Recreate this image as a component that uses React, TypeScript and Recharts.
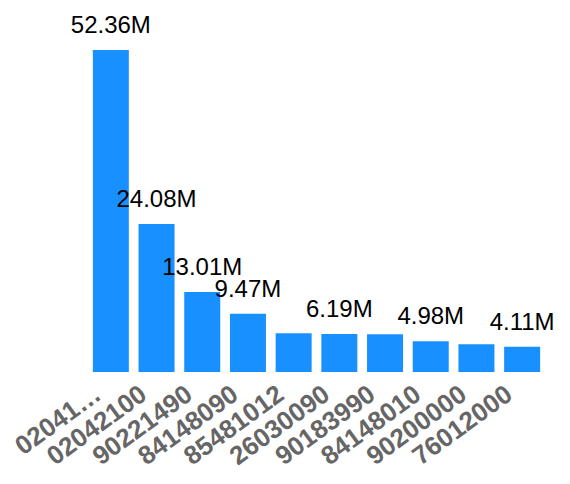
import React from "react";
import { BarChart, Bar, XAxis, YAxis, LabelList } from "recharts";

const categories = ["02041…", "02042100", "90221490", "84148090", "85481012", "26030090", "90183990", "84148010", "90200000", "76012000"];
const values = [52360000, 24080000, 13010000, 9470000, 6300000, 6190000, 6150000, 4980000, 4500000, 4110000];
// labels hidden where they would overlap a neighbour
const labelVisible = [true, true, true, true, false, true, false, true, false, true];

const data = categories.map((name, i) => ({ name, value: values[i], show: labelVisible[i] }));

const fmt = (v: number) => (v / 1e6).toFixed(2) + "M";

const FONT = "Arial, 'Liberation Sans', sans-serif";
const LABEL_SIZE = 24;

const SmartLabel = (props: any) => {
  const { x, y, width, value, index } = props;
  if (!labelVisible[index]) return null;
  const cx = Number(x) + Number(width) / 2;
  const baseY = Number(y) - 17;
  return (
    <text x={cx} y={baseY} textAnchor="middle" fill="#000" fontSize={LABEL_SIZE} fontFamily={FONT}>
      {fmt(Number(value))}
    </text>
  );
};

const Tick = (props: any) => {
  const { x, y, payload } = props;
  const px = x - 8;
  const py = y + 18;
  return (
    <text
      x={px}
      y={py}
      textAnchor="end"
      transform={`rotate(-36, ${px}, ${py})`}
      fill="#666"
      fontSize={26}
      fontWeight="bold"
      fontFamily={FONT}
    >
      {payload.value}
    </text>
  );
};

export default function App() {
  return (
    <div style={{ position: "absolute", left: 0, top: 0, width: 570, height: 484, background: "#fff" }}>
      <BarChart
        width={570}
        height={484}
        data={data}
        margin={{ top: 50, right: 25, left: 88, bottom: 0 }}
        barCategoryGap="10.6%"
      >
        <XAxis
          dataKey="name"
          height={112}
          axisLine={false}
          tickLine={false}
          interval={0}
          tick={<Tick />}
        />
        <YAxis hide domain={[0, 52360000]} />
        <Bar dataKey="value" fill="#1890ff" isAnimationActive={false}>
          <LabelList dataKey="value" content={<SmartLabel />} />
        </Bar>
      </BarChart>
    </div>
  );
}
